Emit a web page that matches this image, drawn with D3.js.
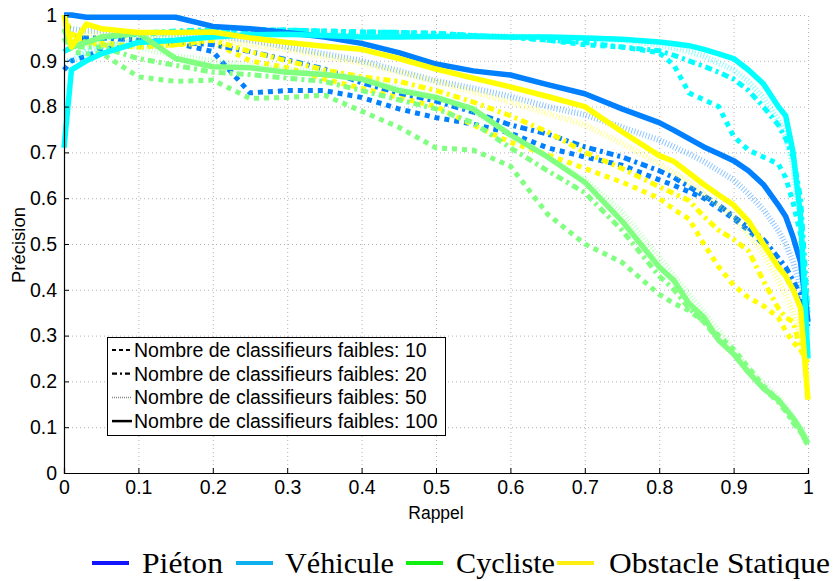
<!DOCTYPE html>
<html><head><meta charset="utf-8">
<script src="https://cdn.jsdelivr.net/npm/d3@7"></script>
<style>body{margin:0;background:#fff}svg{display:block}</style>
</head><body><svg id="c" width="833" height="581"></svg>
<script>
// ---- data ----
const recall = [0,.01,.03,.05,.1,.15,.2,.25,.3,.35,.4,.45,.5,.55,.6,.65,.7,.75,.8,.82,.84,.86,.88,.9,.92,.94,.96,.97,.98,.99,1];
const classes = ["Piéton","Véhicule","Cycliste","Obstacle Statique"];
const nWeak = [10,20,50,100];
const xTickLabels = ["0","0.1","0.2","0.3","0.4","0.5","0.6","0.7","0.8","0.9","1"];
const yTickLabels = ["0","0.1","0.2","0.3","0.4","0.5","0.6","0.7","0.8","0.9","1"];

const pieton10  = [0.88,0.9,0.91,0.924,0.935,0.939,0.92,0.83,0.835,0.835,0.82,0.795,0.776,0.762,0.742,0.71,0.69,0.672,0.64,0.628,0.614,0.6,0.578,0.555,0.53,0.5,0.455,0.43,0.4,0.37,0.32];
const pieton20  = [0.95,0.95,0.95,0.95,0.945,0.942,0.935,0.92,0.902,0.882,0.852,0.83,0.812,0.788,0.76,0.74,0.712,0.69,0.66,0.645,0.625,0.605,0.585,0.56,0.535,0.51,0.47,0.45,0.42,0.39,0.34];
const pieton50  = [0.97,0.97,0.965,0.965,0.96,0.958,0.955,0.945,0.93,0.915,0.9,0.878,0.856,0.84,0.822,0.80,0.782,0.755,0.727,0.712,0.697,0.68,0.66,0.64,0.61,0.575,0.53,0.5,0.46,0.41,0.33];
const pieton100 = [1.0,1.0,0.995,0.995,0.995,0.995,0.975,0.97,0.962,0.952,0.938,0.918,0.893,0.878,0.869,0.848,0.828,0.795,0.765,0.748,0.73,0.712,0.697,0.682,0.66,0.63,0.585,0.56,0.515,0.46,0.33];

const vehicule10  = [0.92,0.93,0.94,0.95,0.958,0.962,0.965,0.967,0.967,0.965,0.963,0.962,0.96,0.955,0.952,0.945,0.935,0.93,0.918,0.89,0.83,0.815,0.80,0.735,0.705,0.69,0.675,0.645,0.59,0.52,0.35];
const vehicule20  = [0.92,0.93,0.94,0.95,0.96,0.965,0.968,0.968,0.967,0.965,0.963,0.962,0.96,0.955,0.952,0.945,0.94,0.93,0.922,0.912,0.9,0.888,0.875,0.86,0.835,0.8,0.76,0.73,0.69,0.6,0.35];
const vehicule50  = [0.9,0.9,0.92,0.93,0.945,0.95,0.955,0.958,0.958,0.957,0.955,0.955,0.955,0.955,0.953,0.952,0.95,0.945,0.935,0.928,0.92,0.91,0.895,0.88,0.855,0.82,0.77,0.735,0.67,0.55,0.3];
const vehicule100 = [0.71,0.88,0.9,0.915,0.94,0.945,0.952,0.957,0.958,0.955,0.952,0.952,0.953,0.953,0.952,0.952,0.95,0.947,0.941,0.937,0.933,0.925,0.915,0.905,0.88,0.85,0.8,0.78,0.7,0.56,0.25];

const cycliste10  = [0.95,0.92,0.915,0.917,0.865,0.855,0.858,0.818,0.82,0.825,0.79,0.755,0.71,0.705,0.67,0.565,0.5,0.46,0.39,0.37,0.355,0.33,0.3,0.27,0.23,0.19,0.16,0.14,0.11,0.09,0.06];
const cycliste20  = [0.95,0.93,0.93,0.93,0.905,0.89,0.875,0.87,0.862,0.855,0.835,0.815,0.795,0.765,0.71,0.66,0.612,0.53,0.43,0.4,0.36,0.33,0.29,0.26,0.22,0.185,0.155,0.135,0.11,0.09,0.06];
const cycliste50  = [0.95,0.93,0.935,0.94,0.93,0.91,0.9,0.89,0.88,0.875,0.86,0.84,0.82,0.79,0.74,0.69,0.64,0.57,0.47,0.43,0.39,0.35,0.31,0.27,0.23,0.195,0.165,0.145,0.12,0.1,0.07];
const cycliste100 = [0.97,0.93,0.94,0.952,0.96,0.905,0.887,0.885,0.875,0.87,0.86,0.835,0.82,0.795,0.738,0.69,0.635,0.55,0.45,0.42,0.37,0.34,0.29,0.26,0.22,0.185,0.16,0.14,0.12,0.095,0.065];

const obstacle10  = [1.0,0.96,0.94,0.94,0.93,0.935,0.94,0.9,0.885,0.86,0.84,0.82,0.8,0.76,0.722,0.695,0.665,0.635,0.6,0.575,0.555,0.5,0.45,0.41,0.383,0.365,0.34,0.31,0.285,0.27,0.24];
const obstacle20  = [1.0,0.95,0.94,0.935,0.93,0.935,0.945,0.92,0.9,0.88,0.865,0.855,0.835,0.81,0.78,0.745,0.7,0.665,0.625,0.61,0.595,0.56,0.53,0.51,0.485,0.42,0.36,0.34,0.33,0.27,0.24];
const obstacle50  = [0.98,0.95,0.96,0.955,0.95,0.948,0.945,0.935,0.925,0.91,0.895,0.875,0.855,0.832,0.81,0.785,0.76,0.72,0.675,0.655,0.635,0.61,0.585,0.56,0.52,0.48,0.42,0.39,0.35,0.3,0.2];
const obstacle100 = [1.0,0.93,0.98,0.97,0.962,0.962,0.963,0.95,0.94,0.932,0.925,0.905,0.882,0.862,0.843,0.822,0.80,0.745,0.693,0.68,0.655,0.63,0.607,0.585,0.55,0.5,0.45,0.43,0.4,0.36,0.16];

const lineColors = ["#0080ff","#00ffff","#80ff80","#ffff00"];
const legendColors = ["#1414ff","#10b0f0","#10f010","#ffee10"];

const seriesByClass = [
  [pieton10,pieton20,pieton50,pieton100],
  [vehicule10,vehicule20,vehicule50,vehicule100],
  [cycliste10,cycliste20,cycliste50,cycliste100],
  [obstacle10,obstacle20,obstacle50,obstacle100]
];

// ---- drawing ----
const svg = d3.select("#c");
const x = d3.scaleLinear().domain([0,1]).range([64,808]);
const y = d3.scaleLinear().domain([0,1]).range([473,15]);
const font = "'Liberation Sans', Arial, sans-serif";

// grid
const ticks = d3.range(0,11).map(i=>i/10);
const grid = svg.append("g").attr("stroke","#b4b4b4").attr("stroke-width",1).attr("stroke-dasharray","1,3");
grid.selectAll(".gx").data(ticks.slice(1)).join("line")
  .attr("x1",d=>x(d)+0.5).attr("x2",d=>x(d)+0.5).attr("y1",y(0)).attr("y2",y(1));
grid.selectAll(".gy").data(ticks.slice(1)).join("line")
  .attr("y1",d=>y(d)+0.5).attr("y2",d=>y(d)+0.5).attr("x1",x(0)).attr("x2",x(1));

// lines
const styles = [
  {w:5, dash:"5,5", op:1},
  {w:5, dash:"7,4,3,4", op:1},
  {w:6, dash:"1,2", op:0.45},
  {w:5.5, dash:null, op:1}
];
const line = d3.line().x((d,i)=>x(recall[i])).y(d=>y(d));
const lg = svg.append("g").attr("fill","none");
nWeak.forEach((n,k)=>{
  seriesByClass.forEach((ser,c)=>{
    lg.append("path").datum(ser[k]).attr("d",line)
      .attr("stroke",lineColors[c]).attr("stroke-width",styles[k].w)
      .attr("stroke-dasharray",styles[k].dash).attr("stroke-opacity",styles[k].op)
      .attr("stroke-linejoin","round");
  });
});

// axes
const xAxis = d3.axisBottom(x).tickValues(ticks).tickSize(-5).tickPadding(7)
  .tickFormat((d,i)=>xTickLabels[i]);
const yAxis = d3.axisLeft(y).tickValues(ticks).tickSize(-5).tickPadding(7)
  .tickFormat((d,i)=>yTickLabels[i]);
const gx = svg.append("g").attr("transform",`translate(0,${y(0)})`).call(xAxis);
const gy = svg.append("g").attr("transform",`translate(${x(0)},0)`).call(yAxis);
[gx,gy].forEach(g=>{
  g.select(".domain").attr("stroke","#000").attr("stroke-width",1.2);
  g.selectAll(".tick line").attr("stroke","#000");
  g.selectAll("text").attr("font-family",font).attr("font-size",19.5).attr("fill","#000");
});

svg.append("text").attr("x",436).attr("y",519).attr("text-anchor","middle")
  .attr("font-family",font).attr("font-size",17.5).text("Rappel");
svg.append("text").attr("transform","translate(25,245) rotate(-90)").attr("text-anchor","middle")
  .attr("font-family",font).attr("font-size",18.5).text("Précision");

// inner legend
const lgd = svg.append("g");
lgd.append("rect").attr("x",107.5).attr("y",337.5).attr("width",338).attr("height",98)
  .attr("fill","#fff").attr("stroke","#000").attr("stroke-width",1);
const legStyles = [
  {w:2.2, dash:"4,3", col:"#000"},
  {w:2.2, dash:"5,3,2,3", col:"#000"},
  {w:1.5, dash:"1,1", col:"#888"},
  {w:2.5, dash:null, col:"#000"}
];
nWeak.forEach((n,k)=>{
  const yy = 350 + k*23.7;
  lgd.append("line").attr("x1",112).attr("x2",132).attr("y1",yy).attr("y2",yy)
    .attr("stroke",legStyles[k].col).attr("stroke-width",legStyles[k].w).attr("stroke-dasharray",legStyles[k].dash);
  lgd.append("text").attr("x",134).attr("y",yy+7).attr("font-family",font).attr("font-size",19.5)
    .text("Nombre de classifieurs faibles: "+n);
});

// bottom legend
const blx = [92,236,406,557];
const btx = [[142,81],[285,109],[456,99],[609,221]];
classes.forEach((c,i)=>{
  svg.append("line").attr("x1",blx[i]).attr("x2",blx[i]+37).attr("y1",563).attr("y2",563)
    .attr("stroke",legendColors[i]).attr("stroke-width",4);
  svg.append("text").attr("x",btx[i][0]).attr("y",573).attr("font-family","'Liberation Serif','DejaVu Serif',serif")
    .attr("font-size",29).attr("textLength",btx[i][1]).attr("lengthAdjust","spacingAndGlyphs").text(c);
});
</script></body></html>
